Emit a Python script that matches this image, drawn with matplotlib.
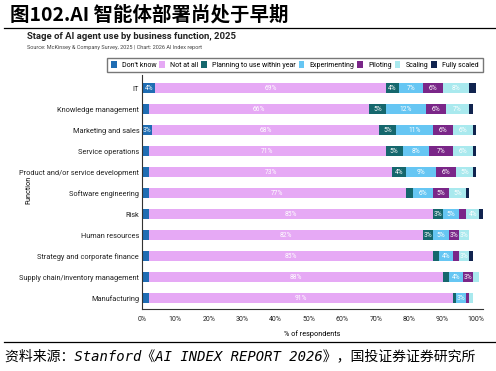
import matplotlib

matplotlib.use("Agg")
import matplotlib.pyplot as plt
from matplotlib.patches import Patch
from matplotlib.lines import Line2D
import numpy as np

plt.rcParams["font.family"] = ["Roboto", "Noto Sans CJK SC", "DejaVu Sans"]

# ------------------------------------------------------------------ data
functions = ["IT", "Knowledge management", "Marketing and sales",
             "Service operations", "Product and/or service development",
             "Software engineering", "Risk", "Human resources",
             "Strategy and corporate finance",
             "Supply chain/inventory management", "Manufacturing"]
dont_know = [4, 2, 3, 2, 2, 2, 2, 2, 2, 2, 2]
not_at_all = [69, 66, 68, 71, 73, 77, 85, 82, 85, 88, 91]
planning = [4, 5, 5, 5, 4, 2, 3, 3, 2, 2, 1]
experimenting = [7, 12, 11, 8, 9, 6, 5, 5, 4, 4, 3]
piloting = [6, 6, 6, 7, 6, 5, 2, 3, 2, 3, 1]
scaling = [8, 7, 6, 6, 5, 5, 4, 3, 3, 2, 1]
fully_scaled = [2, 1, 1, 1, 1, 1, 1, 0, 1, 0, 0]

stage_names = ["Don't know", "Not at all", "Planning to use within year",
               "Experimenting", "Piloting", "Scaling", "Fully scaled"]
stage_values = [dont_know, not_at_all, planning, experimenting,
                piloting, scaling, fully_scaled]
stage_colors = ["#1f6db3", "#e6a9f5", "#15676d", "#66c6f3",
                "#7a2688", "#a9e9ee", "#11244f"]
x_ticks = [0, 10, 20, 30, 40, 50, 60, 70, 80, 90, 100]

# ------------------------------------------------------------------ figure
fig = plt.figure(figsize=(4.96, 3.71), dpi=100)
W, H = 496, 371

fig.text(10 / W, 1 - 15 / H, "图102.AI 智能体部署尚处于早期",
         family=["Noto Sans CJK SC"], fontsize=14, fontweight="bold",
         va="center", ha="left")
fig.add_artist(Line2D([4 / W, 1], [1 - 28 / H] * 2, color="black", lw=0.9))

fig.text(27 / W, 1 - 36.5 / H,
         "Stage of AI agent use by business function, 2025",
         fontsize=6.8, fontweight="bold", color="#222222", va="center")
fig.text(27 / W, 1 - 48 / H,
         "Source: McKinsey & Company Survey, 2025 | Chart: 2026 AI Index report",
         fontsize=4.0, color="#444444", va="center")

ax = fig.add_axes([142 / W, 1 - 309 / H, (483 - 142) / W, (309 - 75) / H])
y = np.arange(len(functions))
left = np.zeros(len(functions))
for name, vals, color in zip(stage_names, stage_values, stage_colors):
    vals = np.asarray(vals, dtype=float)
    ax.barh(y, vals, left=left, height=0.5, color=color, label=name)
    for yi, (l, v) in enumerate(zip(left, vals)):
        if v >= 3:
            ax.text(l + v / 2, yi, f"{int(v)}%", ha="center", va="center",
                    color="white", fontsize=4.8)
    left += vals

ax.set_xlim(0, 102.1)
ax.set_ylim(10.52, -0.62)
ax.set_yticks(y)
ax.set_yticklabels(functions, fontsize=5.3, color="#222222")
ax.set_xticks(x_ticks)
ax.set_xticklabels([f"{t}%" for t in x_ticks], fontsize=5, color="#222222")
ax.tick_params(length=0, pad=2)
ax.tick_params(axis="x", pad=5)
for s in ["top", "right"]:
    ax.spines[s].set_visible(False)
for s in ["left", "bottom"]:
    ax.spines[s].set_color("#333333")
    ax.spines[s].set_linewidth(0.8)
ax.set_xlabel("% of respondents", fontsize=5.2, labelpad=5)
fig.text(29 / W, 1 - 190 / H, "Function", rotation=90, fontsize=5.2,
         ha="center", va="center")

handles = [Patch(facecolor=c) for c in stage_colors]
fig.legend(handles, stage_names, ncol=7, mode="expand", loc="center",
           bbox_to_anchor=(104 / W, 1 - 74 / H, 382 / W, 18 / H),
           fontsize=5.0, frameon=True, fancybox=False, edgecolor="#555555",
           handlelength=0.8, handleheight=1.1, handletextpad=0.8,
           borderpad=0.5, columnspacing=1.0)

fig.add_artist(Line2D([4 / W, 1], [1 - 342 / H] * 2, color="black", lw=0.9))
fig.text(5 / W, 1 - 356 / H,
         "资料来源：Stanford《AI INDEX REPORT 2026》，国投证券证券研究所",
         family=["DejaVu Sans Mono", "Noto Sans CJK SC"], style="italic",
         fontsize=10, va="center", ha="left")

fig.savefig("out.png", dpi=100)
